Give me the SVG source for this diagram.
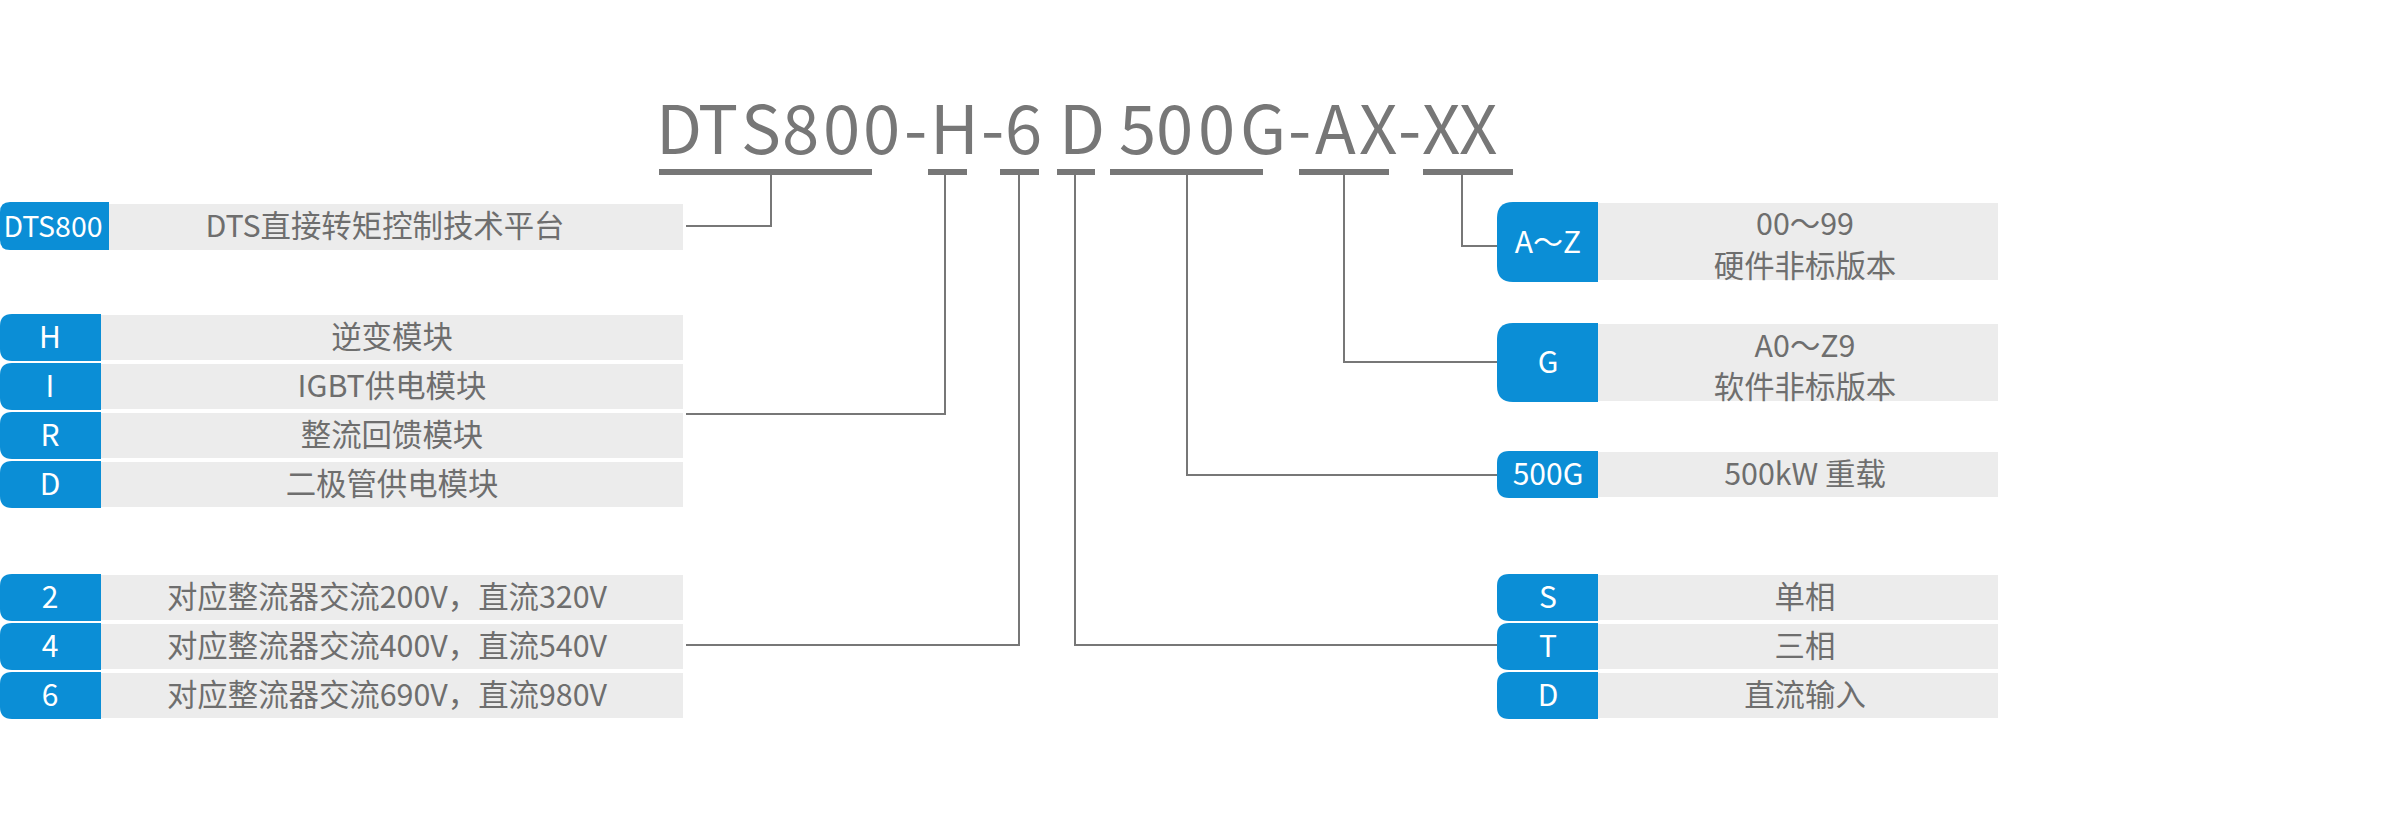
<svg xmlns="http://www.w3.org/2000/svg" width="2400" height="837" viewBox="0 0 2400 837">
<style>
.bg{fill:#ffffff}
.blue{fill:#0b8ed6}
.bar{fill:#ececec}
.k{font-family:"Noto Sans CJK SC","Noto Sans",sans-serif;font-size:30px;fill:#ffffff;text-anchor:middle}
.t{font-family:"Noto Sans CJK SC","Noto Sans",sans-serif;font-size:30.4px;fill:#6e6e6e;text-anchor:middle}
.title{font-family:"Noto Sans CJK SC","Noto Sans",sans-serif;font-size:67px;fill:#777777}
.ul{fill:#777777}
.conn{fill:none;stroke:#777777;stroke-width:2}
</style>
<rect class="bg" x="0" y="0" width="2400" height="837"/>

<g id="title">
<text class="title" x="656 698 741 782 823 863 904 930 981 1005 1045 1059 1100 1119 1156 1198 1240 1288 1315 1359 1398 1422 1459" y="154">DTS800-H-6 D 500G-AX-XX</text>
<rect class="ul" x="659" y="169" width="213" height="6"/>
<rect class="ul" x="928" y="169" width="39" height="6"/>
<rect class="ul" x="1000" y="169" width="39" height="6"/>
<rect class="ul" x="1057" y="169" width="38" height="6"/>
<rect class="ul" x="1110" y="169" width="153" height="6"/>
<rect class="ul" x="1299" y="169" width="90" height="6"/>
<rect class="ul" x="1423" y="169" width="90" height="6"/>
</g>

<g id="connectors">
<path class="conn" d="M771 175 V226 H686"/>
<path class="conn" d="M945 175 V414 H686"/>
<path class="conn" d="M1019 175 V645 H686"/>
<path class="conn" d="M1075 175 V645 H1497"/>
<path class="conn" d="M1187 175 V475 H1497"/>
<path class="conn" d="M1344 175 V362 H1497"/>
<path class="conn" d="M1462 175 V246 H1497"/>
</g>

<g id="node-dts800">
<rect class="bar" x="109" y="204" width="574" height="46"/>
<path class="blue" d="M10 202 H109 V250 H10 Q0 250 0 240 V212 Q0 202 10 202 Z"/>
<text class="k" x="53" y="237" style="font-size:28.5px">DTS800</text>
<text class="t" x="385" y="237">DTS直接转矩控制技术平台</text>
</g>

<g id="node-h">
<rect class="bar" x="101" y="315" width="582" height="45"/>
<path class="blue" d="M12 314 H101 V361 H12 Q0 361 0 349 V326 Q0 314 12 314 Z"/>
<text class="k" x="50" y="348">H</text>
<text class="t" x="392" y="348">逆变模块</text>
</g>
<g id="node-i">
<rect class="bar" x="101" y="364" width="582" height="45"/>
<path class="blue" d="M12 363 H101 V410 H12 Q0 410 0 398 V375 Q0 363 12 363 Z"/>
<text class="k" x="50" y="397">I</text>
<text class="t" x="392" y="397">IGBT供电模块</text>
</g>
<g id="node-r">
<rect class="bar" x="101" y="413" width="582" height="45"/>
<path class="blue" d="M12 412 H101 V459 H12 Q0 459 0 447 V424 Q0 412 12 412 Z"/>
<text class="k" x="50" y="446">R</text>
<text class="t" x="392" y="446">整流回馈模块</text>
</g>
<g id="node-d-left">
<rect class="bar" x="101" y="462" width="582" height="45"/>
<path class="blue" d="M12 461 H101 V508 H12 Q0 508 0 496 V473 Q0 461 12 461 Z"/>
<text class="k" x="50" y="495">D</text>
<text class="t" x="392" y="495">二极管供电模块</text>
</g>

<g id="node-2">
<rect class="bar" x="101" y="575" width="582" height="45"/>
<path class="blue" d="M12 574 H101 V621 H12 Q0 621 0 609 V586 Q0 574 12 574 Z"/>
<text class="k" x="50" y="608">2</text>
<text class="t" x="387" y="608">对应整流器交流200V，直流320V</text>
</g>
<g id="node-4">
<rect class="bar" x="101" y="624" width="582" height="45"/>
<path class="blue" d="M12 623 H101 V670 H12 Q0 670 0 658 V635 Q0 623 12 623 Z"/>
<text class="k" x="50" y="657">4</text>
<text class="t" x="387" y="657">对应整流器交流400V，直流540V</text>
</g>
<g id="node-6">
<rect class="bar" x="101" y="673" width="582" height="45"/>
<path class="blue" d="M12 672 H101 V719 H12 Q0 719 0 707 V684 Q0 672 12 672 Z"/>
<text class="k" x="50" y="706">6</text>
<text class="t" x="387" y="706">对应整流器交流690V，直流980V</text>
</g>

<g id="node-az">
<rect class="bar" x="1598" y="203" width="400" height="77"/>
<path class="blue" d="M1513 202 H1598 V282 H1513 Q1497 282 1497 266 V218 Q1497 202 1513 202 Z"/>
<text class="k" x="1548" y="253">A～Z</text>
<text class="t" x="1805" y="235">00～99</text>
<text class="t" x="1805" y="277">硬件非标版本</text>
</g>
<g id="node-g">
<rect class="bar" x="1598" y="324" width="400" height="77"/>
<path class="blue" d="M1513 323 H1598 V402 H1513 Q1497 402 1497 386 V339 Q1497 323 1513 323 Z"/>
<text class="k" x="1548" y="373">G</text>
<text class="t" x="1805" y="357">A0～Z9</text>
<text class="t" x="1805" y="398">软件非标版本</text>
</g>
<g id="node-500g">
<rect class="bar" x="1598" y="452" width="400" height="45"/>
<path class="blue" d="M1509 451 H1598 V498 H1509 Q1497 498 1497 486 V463 Q1497 451 1509 451 Z"/>
<text class="k" x="1548" y="485">500G</text>
<text class="t" x="1805" y="485">500kW 重载</text>
</g>

<g id="node-s">
<rect class="bar" x="1598" y="575" width="400" height="45"/>
<path class="blue" d="M1509 574 H1598 V621 H1509 Q1497 621 1497 609 V586 Q1497 574 1509 574 Z"/>
<text class="k" x="1548" y="608">S</text>
<text class="t" x="1805" y="608">单相</text>
</g>
<g id="node-t">
<rect class="bar" x="1598" y="624" width="400" height="45"/>
<path class="blue" d="M1509 623 H1598 V670 H1509 Q1497 670 1497 658 V635 Q1497 623 1509 623 Z"/>
<text class="k" x="1548" y="657">T</text>
<text class="t" x="1805" y="657">三相</text>
</g>
<g id="node-d-right">
<rect class="bar" x="1598" y="673" width="400" height="45"/>
<path class="blue" d="M1509 672 H1598 V719 H1509 Q1497 719 1497 707 V684 Q1497 672 1509 672 Z"/>
<text class="k" x="1548" y="706">D</text>
<text class="t" x="1805" y="706">直流输入</text>
</g>
</svg>
